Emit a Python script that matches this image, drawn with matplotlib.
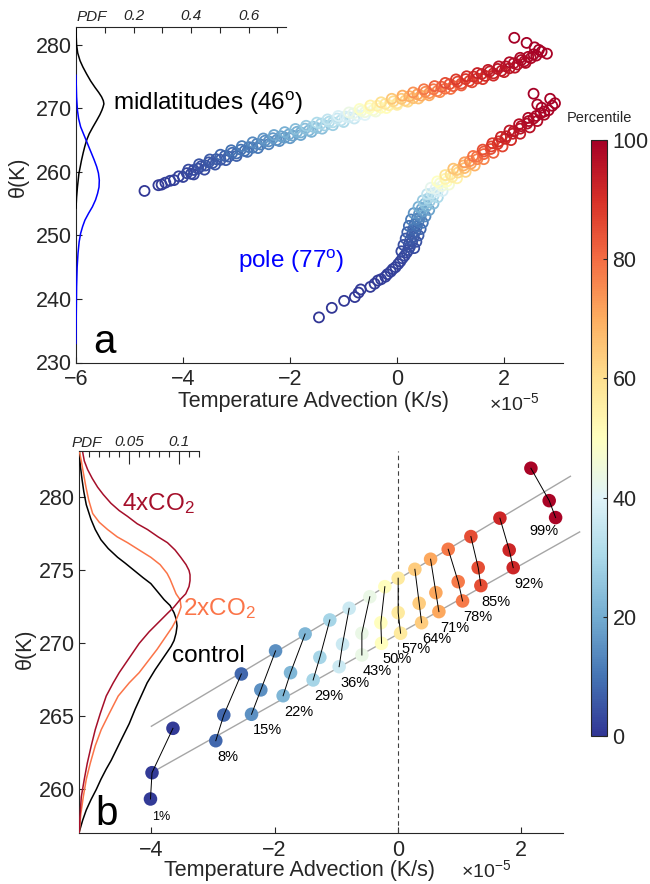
import numpy as np
import matplotlib
matplotlib.use("Agg")
import matplotlib.pyplot as plt
from matplotlib import colors, cm

plt.rcParams['font.family'] = ['Liberation Sans', 'DejaVu Sans']
plt.rcParams['mathtext.fontset'] = 'custom'
plt.rcParams['mathtext.rm'] = 'Liberation Sans'
plt.rcParams['mathtext.it'] = 'Liberation Sans:italic'

# ---- panel a: theta vs temperature advection (x in 1e-5 K/s) ----
mid_x = [-4.72, -4.46, -4.40, -4.33, -4.24, -4.17, -4.08, -4.00, -3.93, -3.85, -3.80, -3.72,
         -3.66, -3.58, -3.52, -3.45, -3.38, -3.30, -3.22, -3.15, -3.08, -3.00, -2.92, -2.85,
         -2.77, -2.70, -2.62, -2.55, -2.47, -2.40, -2.32, -2.25, -2.17, -2.10, -2.02, -1.95,
         -1.87, -1.80, -1.72, -1.65, -1.57, -1.50, -1.42, -1.35, -1.27, -1.20, -1.12, -1.05,
         -0.97, -0.90, -0.82, -0.75, -0.67, -0.60, -0.52, -0.45, -0.37, -0.30, -0.22, -0.15,
         -0.07, 0.00, 0.08, 0.15, 0.23, 0.30, 0.38, 0.45, 0.53, 0.60, 0.68, 0.75,
         0.83, 0.90, 0.98, 1.05, 1.13, 1.20, 1.28, 1.35, 1.43, 1.50, 1.58, 1.65,
         1.73, 1.80, 1.88, 1.95, 2.03, 2.10, 2.18, 2.25, 2.32, 2.38, 2.45, 2.50,
         2.55, 2.60, 2.70, 2.80, 2.65, 2.57, 2.42, 2.19,
         -3.9, -3.8, -3.7, -3.6, -3.5, -3.4, -3.3, -3.2, -3.1, -3.0, -2.9, -2.8,
         -2.7, -2.6, -2.5, -2.4, -2.3, -2.2, -2.1, -2.0, -1.9, -1.8, -1.7, -1.6,
         -1.5, -1.4, -1.3, -1.2, -1.1, -1.0, -0.9, -0.8, -0.7, -0.6, -0.5, -0.4,
         -0.3, -0.2, -0.1, 0.0, 0.1, 0.2, 0.3, 0.4, 0.5, 0.6, 0.7, 0.8,
         0.9, 1.0, 1.1, 1.2, 1.3, 1.4, 1.5, 1.6, 1.7, 1.8, 1.9, 2.0,
         2.1, 2.2, 2.3, 2.4]
mid_theta = [257.0, 257.9, 258.0, 258.3, 258.6, 258.7, 259.3, 259.2, 259.8, 259.7, 260.3, 260.5,
             260.9, 261.0, 261.5, 261.4, 262.0, 261.9, 262.5, 262.4, 263.0, 262.9, 263.5, 263.3,
             263.9, 263.8, 264.4, 264.3, 264.9, 264.8, 265.3, 265.0, 265.6, 265.4, 265.9, 265.7,
             266.3, 266.2, 266.8, 266.5, 267.1, 266.9, 267.6, 267.3, 267.9, 267.8, 268.4, 268.1,
             268.7, 268.6, 269.2, 268.9, 269.6, 269.4, 270.0, 269.7, 270.4, 270.1, 270.7, 270.5,
             271.1, 270.8, 271.5, 271.2, 271.9, 271.6, 272.2, 272.0, 272.6, 272.4, 273.0, 272.7,
             273.4, 273.1, 273.8, 273.5, 274.2, 273.9, 274.6, 274.3, 275.0, 274.7, 275.4, 275.1,
             275.8, 275.5, 276.2, 275.9, 276.6, 276.3, 277.1, 276.9, 277.6, 277.4, 278.1, 277.9,
             278.5, 278.3, 278.9, 278.6, 279.2, 279.6, 280.3, 281.1,
             260.35, 259.6, 261.2, 260.35, 261.95, 261.15, 262.7, 261.85, 263.4, 262.5, 264.05, 263.15,
             264.65, 263.75, 265.25, 264.35, 265.8, 264.85, 266.25, 265.3, 266.75, 265.8, 267.25, 266.3,
             267.75, 266.8, 268.25, 267.35, 268.8, 267.85, 269.35, 268.4, 269.9, 268.95, 270.45, 269.5,
             270.95, 270.05, 271.5, 270.55, 272.0, 271.05, 272.5, 271.55, 273.0, 272.05, 273.5, 272.55,
             274.0, 273.05, 274.55, 273.6, 275.05, 274.1, 275.55, 274.6, 276.05, 275.15, 276.6, 275.7,
             277.25, 276.4, 277.95, 277.15]

pole_x = [-1.46, -1.22, -0.99, -0.79, -0.72, -0.68, -0.50, -0.42, -0.36, -0.30, -0.22, -0.18,
          -0.12, -0.08, -0.03, 0.02, 0.06, 0.10, 0.14, 0.18, 0.21, 0.24, 0.22, 0.28,
          0.25, 0.31, 0.28, 0.34, 0.30, 0.37, 0.33, 0.40, 0.37, 0.44, 0.41, 0.49,
          0.46, 0.55, 0.52, 0.61, 0.58, 0.68, 0.65, 0.76, 0.72, 0.84, 0.80, 0.93,
          0.90, 1.03, 1.00, 1.14, 1.12, 1.26, 1.24, 1.38, 1.36, 1.50, 1.49, 1.62,
          1.62, 1.75, 1.76, 1.88, 1.90, 2.02, 2.04, 2.16, 2.18, 2.30, 2.32, 2.43,
          2.46, 2.55, 2.60, 2.68, 2.75, 2.83, 2.70, 2.90, 2.95, 2.62, 2.86, 2.55,
          0.08, 0.32, 0.12, 0.36, 0.16, 0.40, 0.19, 0.44, 0.22, 0.48, 0.26, 0.53,
          0.31, 0.60, 0.40, 0.68, 0.48, 0.76, 0.56, 0.85, 0.63, 0.97, 0.75, 1.12,
          0.90, 1.28, 1.05, 1.45, 1.26, 1.62, 1.42, 1.80, 1.60, 1.97, 1.78, 2.13,
          1.94, 2.30, 2.10, 2.48, 2.28, 2.62, 2.45, 2.75]
pole_theta = [237.1, 238.6, 239.7, 240.3, 241.0, 241.5, 241.9, 242.4, 242.9, 243.1, 243.5, 243.9,
              244.3, 244.7, 245.0, 245.5, 245.9, 246.4, 246.8, 247.3, 247.7, 248.2, 248.6, 249.0,
              249.4, 249.8, 250.2, 250.6, 251.0, 251.4, 251.8, 252.2, 252.6, 253.0, 253.4, 253.8,
              254.2, 254.6, 255.0, 255.4, 255.8, 256.2, 256.6, 257.0, 257.4, 257.8, 258.2, 258.5,
              258.9, 259.2, 259.6, 259.9, 260.3, 260.6, 261.0, 261.3, 261.7, 262.0, 262.4, 262.8,
              263.2, 263.6, 264.0, 264.4, 264.8, 265.2, 265.6, 266.0, 266.4, 266.8, 267.2, 267.6,
              268.0, 268.4, 268.8, 269.2, 269.5, 269.7, 270.1, 270.4, 270.8, 270.6, 271.5, 272.3,
              247.5, 248.0, 248.5, 249.0, 249.5, 250.0, 250.5, 251.0, 251.5, 252.0, 252.5, 253.0,
              253.5, 254.0, 254.5, 255.0, 255.5, 256.0, 256.5, 257.0, 257.5, 258.0, 258.5, 259.0,
              259.5, 260.0, 260.5, 261.0, 261.5, 262.0, 262.5, 263.0, 263.5, 264.0, 264.5, 265.0,
              265.5, 266.0, 266.5, 267.0, 267.5, 268.0, 268.5, 269.0]

# PDFs of theta, panel a
mid_pdf_theta = [254.3, 256.0, 257.6, 259.7, 261.8, 263.0, 263.9, 265.0, 266.0, 267.0, 268.1,
                 269.0, 269.7, 270.2, 270.7, 271.2, 271.8, 272.5, 273.3, 274.3, 275.4, 276.5,
                 277.5, 278.7, 280.0, 281.5, 282.8]
mid_pdf = [0.0, 0.002, 0.005, 0.010, 0.019, 0.025, 0.030, 0.037, 0.046, 0.058, 0.072,
           0.083, 0.090, 0.094, 0.097, 0.095, 0.089, 0.079, 0.066, 0.051, 0.037, 0.024,
           0.014, 0.006, 0.002, 0.0005, 0.0]
pole_pdf_theta = [233.0, 238.0, 241.9, 245.0, 247.2, 249.0, 250.3, 251.4, 252.4, 253.5, 254.5,
                  255.6, 256.6, 257.6, 258.7, 259.8, 260.8, 261.9, 262.9, 264.0, 265.0, 266.1,
                  267.1, 268.4, 269.7, 271.8, 275.2]
pole_pdf = [0.0, 0.001, 0.002, 0.004, 0.007, 0.011, 0.016, 0.023, 0.031, 0.044, 0.057,
            0.068, 0.075, 0.080, 0.081, 0.078, 0.072, 0.063, 0.054, 0.044, 0.035, 0.025,
            0.016, 0.009, 0.005, 0.002, 0.0]

# ---- panel b: percentiles, control / 2xCO2 / 4xCO2 ----
pcts = [1, 8, 15, 22, 29, 36, 43, 50, 57, 64, 71, 78, 85, 92, 99]
ctrl_x = [-4.015, -2.955, -2.375, -1.862, -1.375, -0.953, -0.584, -0.265, 0.044, 0.385, 0.666,
          1.050, 1.347, 1.872, 2.560]
ctrl_theta = [259.35, 263.34, 265.15, 266.42, 267.50, 268.41, 269.21, 270.01, 270.70, 271.42,
              272.18, 272.91, 273.96, 275.19, 278.62]
co2x2_x = [-3.990, -2.825, -2.224, -1.742, -1.266, -0.898, -0.584, -0.276, 0.005, 0.346, 0.617,
           0.979, 1.304, 1.807, 2.456]
co2x2_theta = [261.15, 265.10, 266.82, 268.00, 269.05, 269.95, 270.70, 271.42, 272.11, 272.75,
               273.48, 274.23, 275.19, 276.40, 279.78]
co2x4_x = [-3.650, -2.540, -1.985, -1.505, -1.104, -0.790, -0.455, -0.211, 0.005, 0.276, 0.531,
           0.817, 1.185, 1.656, 2.159]
co2x4_theta = [264.19, 267.91, 269.49, 270.65, 271.61, 272.41, 273.20, 273.89, 274.47, 275.08,
               275.77, 276.45, 277.32, 278.58, 282.00]

ctrl_pdf_theta = [257.1, 257.9, 258.6, 259.3, 260.0, 260.7, 261.4, 262.0, 262.7, 263.4, 264.5,
                  265.5, 266.4, 267.3, 268.2, 268.8, 269.3, 269.8, 270.2, 270.7, 271.2, 271.7,
                  272.1, 272.6, 273.0, 273.5, 274.1, 274.5, 275.0, 275.5, 275.9, 276.5, 277.1,
                  277.8, 278.5, 279.5, 280.4, 281.2, 282.2, 283.2]
ctrl_pdf = [0.0, 0.0034, 0.007, 0.0117, 0.017, 0.0217, 0.027, 0.032, 0.037, 0.042, 0.050,
            0.056, 0.062, 0.068, 0.076, 0.082, 0.087, 0.092, 0.095, 0.097, 0.098, 0.097,
            0.095, 0.091, 0.085, 0.079, 0.0717, 0.064, 0.055, 0.046, 0.0384, 0.029, 0.0217,
            0.016, 0.0117, 0.007, 0.0045, 0.0028, 0.001, 0.0]
x2_pdf_theta = [257.1, 258.3, 259.5, 260.7, 261.8, 263.0, 264.1, 265.2, 266.4, 267.3, 268.0,
                268.8, 269.6, 270.5, 271.1, 271.6, 272.1, 272.5, 273.0, 273.4, 273.9, 274.4,
                274.8, 275.4, 275.9, 276.4, 276.9, 277.3, 277.8, 278.3, 278.9, 279.8, 280.7,
                281.7, 282.5, 283.2]
x2_pdf = [0.0, 0.0015, 0.004, 0.007, 0.011, 0.016, 0.022, 0.030, 0.039, 0.050, 0.060,
          0.069, 0.078, 0.087, 0.093, 0.097, 0.100, 0.102, 0.101, 0.097, 0.094, 0.091,
          0.088, 0.081, 0.0717, 0.060, 0.0484, 0.038, 0.0284, 0.020, 0.0134, 0.0095, 0.0067,
          0.004, 0.002, 0.0]
x4_pdf_theta = [257.1, 258.3, 259.5, 260.7, 261.8, 263.0, 264.1, 265.2, 266.4, 267.3, 268.0,
                269.0, 270.0, 270.8, 271.6, 272.1, 272.5, 273.0, 273.4, 273.9, 274.3, 274.7,
                275.0, 275.4, 275.9, 276.4, 276.9, 277.3, 277.8, 278.2, 278.7, 279.1, 279.6,
                280.2, 280.7, 281.3, 281.9, 282.5, 283.1]
x4_pdf = [0.0, 0.0008, 0.002, 0.005, 0.008, 0.012, 0.016, 0.021, 0.027, 0.034, 0.040,
          0.050, 0.060, 0.070, 0.0817, 0.089, 0.095, 0.101, 0.1067, 0.110, 0.111, 0.111,
          0.110, 0.107, 0.1017, 0.096, 0.0884, 0.079, 0.0684, 0.058, 0.0484, 0.040, 0.0317,
          0.024, 0.0184, 0.013, 0.0084, 0.005, 0.0034]

# x-extent of the two grey fitted lines
fit_span_ctrl = [-4.0, 2.95]
fit_span_x4 = [-4.0, 2.80]

cmap = plt.get_cmap('RdYlBu_r')
norm = colors.Normalize(0, 100)
DARK = '#262626'
C4 = '#a50f2a'
C2 = '#fb7448'


def percentile_from_pdf(theta, pdf_theta, pdf):
    t = np.asarray(pdf_theta, float)
    p = np.asarray(pdf, float)
    cum = np.concatenate([[0.0], np.cumsum(np.diff(t) * (p[1:] + p[:-1]) / 2)])
    cum /= cum[-1]
    return 100 * np.interp(theta, t, cum)


def style_main(ax):
    for s in ['top', 'right']:
        ax.spines[s].set_visible(False)
    for s in ['left', 'bottom']:
        ax.spines[s].set_color(DARK)
        ax.spines[s].set_linewidth(0.8)
    ax.tick_params(direction='in', length=4, width=0.8, colors=DARK, labelsize=15.5)
    ax.tick_params(axis='x', pad=5)
    ax.tick_params(axis='y', pad=3)


def style_pdf(ax):
    ax.patch.set_alpha(0)
    for s in ['bottom', 'left', 'right']:
        ax.spines[s].set_visible(False)
    ax.spines['top'].set_color(DARK)
    ax.spines['top'].set_linewidth(0.8)
    ax.xaxis.tick_top()
    ax.set_yticks([])


fig = plt.figure(figsize=(6.5, 8.84), dpi=100)
W, H = 650, 884


def box(l, t, r, b):
    return [l / W, 1 - b / H, (r - l) / W, (b - t) / H]


# ---------------- panel a ----------------
ax_a = fig.add_axes(box(76, 27, 563, 362.5))
style_main(ax_a)
mid_pct = percentile_from_pdf(mid_theta, mid_pdf_theta, mid_pdf)
pole_pct = percentile_from_pdf(pole_theta, pole_pdf_theta, pole_pdf)
mo = np.argsort(mid_pct)
po = np.argsort(pole_pct)
ax_a.scatter(np.array(mid_x)[mo], np.array(mid_theta)[mo], s=52, facecolors='none',
             edgecolors=cmap(norm(mid_pct[mo])), linewidths=1.3)
ax_a.scatter(np.array(pole_x)[po], np.array(pole_theta)[po], s=52, facecolors='none',
             edgecolors=cmap(norm(pole_pct[po])), linewidths=1.3)
ax_a.set_xlim(-6, 3.1)
ax_a.set_ylim(230, 282.8)
ax_a.set_xticks([-6, -4, -2, 0, 2])
ax_a.set_yticks([230, 240, 250, 260, 270, 280])
ax_a.set_xlabel('Temperature Advection (K/s)', fontsize=15.5, color=DARK)
ax_a.xaxis.set_label_coords(0.487, -0.117)
ax_a.xaxis.label.set_va('center')
ax_a.set_ylabel('θ(K)', fontsize=15.5, color=DARK)
ax_a.yaxis.set_label_coords(-0.119, 0.554)
ax_a.yaxis.label.set_va('center')
ax_a.text(0.899, -0.121, r'$\times10^{-5}$', transform=ax_a.transAxes, fontsize=14,
          color=DARK, ha='center', va='center')
ax_a.text(-5.31, 269.7, r'midlatitudes (46$^{\rm o}$)', fontsize=17.5, va='baseline')
ax_a.text(-2.98, 244.8, r'pole (77$^{\rm o}$)', fontsize=17.5, color='#0000ff', va='baseline')
ax_a.text(-5.68, 231.5, 'a', fontsize=29, va='baseline')

pdf_a = fig.add_axes(box(76, 27, 286, 362.5))
style_pdf(pdf_a)
pdf_a.plot(mid_pdf, mid_pdf_theta, color='black', lw=1.1)
pdf_a.plot(pole_pdf, pole_pdf_theta, color='#0000ff', lw=1.1)
pdf_a.set_xlim(0, 0.73)
pdf_a.set_ylim(ax_a.get_ylim())
pdf_a.set_xticks([0.2, 0.4, 0.6])
pdf_a.set_xticklabels(['0.2', '0.4', '0.6'], fontstyle='italic')
pdf_a.set_xticks([0.1, 0.3, 0.5, 0.7], minor=True)
pdf_a.tick_params(axis='x', which='both', direction='in', length=4, width=0.8,
                  colors=DARK, labelsize=11, pad=3)
fig.text(77 / W, 1 - 17 / H, 'PDF', fontsize=11, fontstyle='italic', color=DARK, va='center')

# ---------------- panel b ----------------
ax_b = fig.add_axes(box(79.3, 450.7, 563, 833.3))
style_main(ax_b)
ax_b.set_xlim(-5.17, 2.68)
ax_b.set_ylim(257.0, 283.2)
ax_b.set_xticks([-4, -2, 0, 2])
ax_b.set_yticks([260, 265, 270, 275, 280])
ax_b.axvline(0, color='#404040', lw=0.8, ls=(0, (4, 3)))

for xs, ts, span in [(ctrl_x, ctrl_theta, fit_span_ctrl), (co2x4_x, co2x4_theta, fit_span_x4)]:
    coef = np.polyfit(xs[1:-1], ts[1:-1], 1)
    ax_b.plot(span, np.polyval(coef, span), color='#a6a6a6', lw=1.0, clip_on=False, zorder=1)

pc_col = cmap(norm(pcts))
for xs, ts in [(ctrl_x, ctrl_theta), (co2x2_x, co2x2_theta), (co2x4_x, co2x4_theta)]:
    ax_b.scatter(xs, ts, s=95, c=pc_col, edgecolors='none', zorder=2, clip_on=False)
for i in range(len(pcts)):
    ax_b.plot([ctrl_x[i], co2x2_x[i], co2x4_x[i]],
              [ctrl_theta[i], co2x2_theta[i], co2x4_theta[i]],
              color='black', lw=0.7, zorder=3)

label_offsets = {1: (7.9, -12.7), 8: (8.4, -11.5), 99: (-8.4, -9.4)}
for i, p in enumerate(pcts):
    off = label_offsets.get(p, (11.2, -11.5))
    ax_b.annotate(f'{p}%', (ctrl_x[i], ctrl_theta[i]), xytext=off, textcoords='offset points',
                  ha='center', va='center', fontsize=9 if p == 1 else 10.5, zorder=4)

ax_b.set_xlabel('Temperature Advection (K/s)', fontsize=15.5, color=DARK)
ax_b.xaxis.set_label_coords(0.456, -0.096)
ax_b.xaxis.label.set_va('center')
ax_b.set_ylabel('θ(K)', fontsize=15.5, color=DARK)
ax_b.yaxis.set_label_coords(-0.112, 0.4835)
ax_b.yaxis.label.set_va('center')
ax_b.text(0.841, -0.096, r'$\times10^{-5}$', transform=ax_b.transAxes, fontsize=14,
          color=DARK, ha='center', va='center')
ax_b.text(-4.48, 279.1, r'4xCO$_2$', fontsize=17.5, color=C4, va='baseline')
ax_b.text(-3.48, 271.95, r'2xCO$_2$', fontsize=17.5, color=C2, va='baseline')
ax_b.text(-3.67, 268.75, 'control', fontsize=17.5, color='black', va='baseline')
ax_b.text(-4.915, 257.57, 'b', fontsize=29, va='baseline')

pdf_b = fig.add_axes(box(79.3, 450.7, 199, 833.3))
style_pdf(pdf_b)
pdf_b.plot(ctrl_pdf, ctrl_pdf_theta, color='black', lw=1.1)
pdf_b.plot(x2_pdf, x2_pdf_theta, color=C2, lw=1.1)
pdf_b.plot(x4_pdf, x4_pdf_theta, color=C4, lw=1.1)
pdf_b.set_xlim(0, 0.12)
pdf_b.set_ylim(ax_b.get_ylim())
pdf_b.set_xticks([0.05, 0.1])
pdf_b.set_xticklabels(['0.05', '0.1'], fontstyle='italic')
pdf_b.set_xticks(np.arange(0.01, 0.125, 0.01), minor=True)
pdf_b.tick_params(axis='x', which='major', direction='in', length=9, width=0.8,
                  colors=DARK, labelsize=11, pad=1.5)
pdf_b.tick_params(axis='x', which='minor', direction='in', length=4, width=0.8, colors=DARK)
fig.text(71.7 / W, 1 - 443 / H, 'PDF', fontsize=11, fontstyle='italic', color=DARK, va='center')

# ---------------- colorbar ----------------
cax = fig.add_axes(box(591, 140, 607, 736))
cb = fig.colorbar(cm.ScalarMappable(norm=norm, cmap=cmap), cax=cax)
cb.set_ticks([0, 20, 40, 60, 80, 100])
cb.outline.set_linewidth(0.8)
cb.outline.set_edgecolor(DARK)
cax.tick_params(direction='in', length=3, width=0.8, colors=DARK, labelsize=15.5, pad=4)
fig.text(599 / W, 1 - 118 / H, 'Percentile', ha='center', va='center', fontsize=10.5, color=DARK)

fig.savefig('out.png', dpi=100)
